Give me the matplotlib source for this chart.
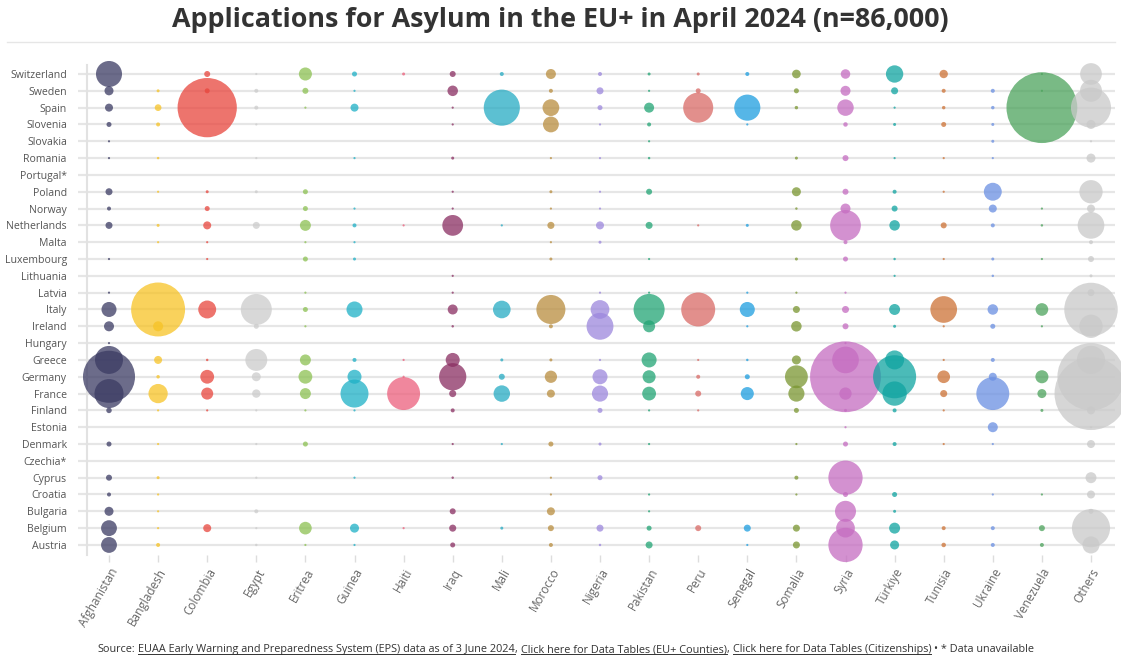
import matplotlib
matplotlib.use('Agg')
import matplotlib.pyplot as plt
from matplotlib.lines import Line2D
import numpy as np

plt.rcParams['font.family'] = ['Open Sans', 'DejaVu Sans']

# rows, top to bottom
countries = ['Switzerland', 'Sweden', 'Spain', 'Slovenia', 'Slovakia', 'Romania', 'Portugal*',
             'Poland', 'Norway', 'Netherlands', 'Malta', 'Luxembourg', 'Lithuania', 'Latvia',
             'Italy', 'Ireland', 'Hungary', 'Greece', 'Germany', 'France', 'Finland', 'Estonia',
             'Denmark', 'Czechia*', 'Cyprus', 'Croatia', 'Bulgaria', 'Belgium', 'Austria']

citizenships = ['Afghanistan', 'Bangladesh', 'Colombia', 'Egypt', 'Eritrea', 'Guinea', 'Haiti',
                'Iraq', 'Mali', 'Morocco', 'Nigeria', 'Pakistan', 'Peru', 'Senegal', 'Somalia',
                'Syria', 'Türkiye', 'Tunisia', 'Ukraine', 'Venezuela', 'Others']

# applications per country (same order as countries)
afghanistan = [676, 81, 64, 25, 4, 2, 0, 49, 16, 49, 0, 4, 0, 2, 225, 100, 2, 780, 2700, 840, 30, 0, 25, 0, 36, 16, 81, 250, 250]
bangladesh = [0, 9, 45, 16, 0, 6, 0, 2, 0, 9, 4, 0, 0, 0, 2900, 100, 0, 64, 12, 370, 2, 0, 2, 0, 9, 1, 1, 2, 16]
colombia = [36, 25, 3500, 0, 0, 0, 0, 9, 25, 64, 4, 4, 0, 0, 320, 0, 0, 6, 190, 144, 4, 0, 0, 0, 0, 0, 0, 64, 0]
egypt = [2, 16, 16, 1, 0, 1, 0, 9, 0, 49, 0, 0, 0, 0, 960, 25, 0, 480, 80, 70, 1, 0, 1, 0, 4, 0, 16, 4, 6]
eritrea = [170, 36, 2, 0, 0, 0, 0, 25, 25, 120, 1, 25, 0, 1, 25, 4, 0, 120, 190, 120, 1, 0, 25, 0, 0, 0, 0, 160, 4]
guinea = [25, 4, 64, 0, 0, 4, 0, 0, 4, 16, 2, 9, 0, 0, 256, 0, 0, 16, 196, 780, 4, 0, 0, 0, 4, 0, 0, 81, 4]
haiti = [9, 0, 0, 0, 0, 0, 0, 0, 0, 4, 0, 0, 0, 0, 0, 0, 0, 4, 2, 1080, 0, 0, 0, 0, 0, 0, 0, 4, 0]
iraq = [36, 110, 4, 4, 0, 9, 0, 4, 4, 430, 0, 0, 4, 4, 100, 6, 0, 196, 740, 50, 16, 0, 4, 0, 6, 0, 36, 50, 25]
mali = [16, 0, 1300, 0, 0, 0, 0, 0, 0, 2, 0, 0, 0, 0, 310, 0, 0, 9, 36, 270, 0, 0, 2, 0, 0, 0, 0, 9, 0]
morocco = [100, 16, 280, 250, 0, 4, 0, 9, 4, 50, 4, 9, 0, 0, 840, 16, 0, 9, 150, 64, 0, 0, 25, 0, 4, 2, 64, 36, 16]
nigeria = [16, 49, 25, 4, 0, 2, 0, 4, 2, 64, 9, 0, 0, 4, 350, 720, 0, 4, 225, 260, 25, 0, 9, 0, 25, 0, 0, 49, 6]
pakistan = [9, 4, 100, 16, 2, 6, 0, 36, 0, 49, 0, 4, 0, 2, 960, 144, 0, 225, 170, 190, 4, 0, 4, 0, 0, 2, 4, 25, 49]
peru = [9, 25, 900, 0, 0, 0, 0, 0, 0, 4, 0, 0, 0, 0, 1150, 0, 0, 2, 16, 36, 4, 0, 0, 0, 0, 0, 0, 36, 0]
senegal = [16, 0, 680, 4, 0, 0, 0, 0, 0, 9, 0, 0, 0, 4, 225, 4, 0, 6, 25, 170, 0, 0, 0, 0, 0, 0, 0, 49, 2]
somalia = [75, 25, 12, 0, 0, 9, 0, 81, 6, 110, 0, 9, 0, 1, 49, 110, 0, 81, 520, 260, 25, 0, 2, 0, 16, 2, 0, 49, 49]
syria = [90, 100, 270, 20, 0, 36, 0, 36, 100, 940, 16, 25, 0, 4, 49, 36, 2, 710, 5000, 150, 9, 2, 25, 0, 1170, 25, 440, 350, 1170]
turkiye = [300, 49, 4, 9, 0, 4, 0, 16, 36, 110, 0, 6, 4, 0, 120, 9, 0, 360, 1850, 590, 16, 0, 16, 0, 0, 25, 9, 120, 81]
tunisia = [70, 16, 12, 25, 0, 2, 0, 4, 0, 36, 0, 2, 0, 0, 710, 2, 0, 4, 160, 50, 2, 0, 4, 0, 0, 0, 0, 16, 20]
ukraine = [0, 16, 12, 9, 9, 4, 0, 320, 64, 16, 0, 9, 6, 0, 110, 25, 0, 16, 64, 1080, 0, 100, 2, 0, 0, 4, 0, 16, 16]
venezuela = [4, 4, 5000, 0, 0, 0, 0, 0, 2, 6, 0, 4, 0, 0, 160, 2, 0, 0, 170, 81, 9, 0, 0, 0, 0, 4, 0, 36, 16]
others = [470, 480, 1600, 81, 4, 81, 0, 540, 64, 710, 16, 36, 9, 49, 2850, 540, 0, 800, 4500, 5300, 64, 4, 64, 0, 120, 64, 25, 1450, 290]

series = [afghanistan, bangladesh, colombia, egypt, eritrea, guinea, haiti, iraq, mali, morocco,
          nigeria, pakistan, peru, senegal, somalia, syria, turkiye, tunisia, ukraine, venezuela, others]

colors = ['#3b3b63', '#f7c325', '#e8453c', '#cccccc', '#8cc152', '#1eb0c6', '#ec5f7c',
          '#8a2e62', '#26abc3', '#b98d3e', '#9c87dd', '#21a474', '#d96a66', '#1d9ee0',
          '#7a9630', '#c56cc1', '#0fa4a1', '#cd7235', '#6a8fe2', '#4ca35c', '#c9c9c9']

W, H = 1121, 661
fig = plt.figure(figsize=(W / 100, H / 100), dpi=100)
ax = fig.add_axes([87 / W, 1 - 555 / H, (1115 - 87) / W, (555 - 65) / H])

rows = np.arange(len(countries))
for i, (vals, col) in enumerate(zip(series, colors)):
    vals = np.array(vals, dtype=float)
    m = vals > 0
    # area proportional to value, small floor so tiny counts stay visible
    ax.scatter(np.full(m.sum(), i), rows[m], s=np.maximum(vals[m] * 0.52, 2.5), color=col,
               alpha=0.75, linewidths=0, clip_on=False, zorder=3)

ax.set_xlim((87 - 109) / 49.1, (1115 - 109) / 49.1)
ax.set_ylim((555 - 74) / 16.82, (65 - 74) / 16.82)

ax.set_yticks(rows)
ax.set_yticklabels(countries)
ax.set_xticks(np.arange(len(citizenships)))
ax.set_xticklabels(citizenships, rotation=60, ha='right', rotation_mode='anchor')

ax.yaxis.grid(True, color='#e6e6e6', lw=1.6, zorder=0)
ax.set_axisbelow(True)
ax.tick_params(axis='y', length=6.5, width=1.6, color='#e6e6e6', pad=8, labelsize=7.6, labelcolor='#555555')
ax.tick_params(axis='x', length=5, width=1, color='#dddddd', pad=3, labelsize=8.5, labelcolor='#666666')
for s in ['top', 'right', 'bottom']:
    ax.spines[s].set_visible(False)
ax.spines['left'].set_color('#e2e2e2')
ax.spines['left'].set_linewidth(1.5)

fig.text(0.5, 1 - 20 / H, 'Applications for Asylum in the EU+ in April 2024 (n=86,000)',
         ha='center', va='center', fontsize=19.4, fontweight='bold', color='#333333')
fig.add_artist(Line2D([7 / W, 1115 / W], [1 - 42 / H] * 2, color='#e6e6e6', lw=1))

# source line with underlined links
pieces = ['Source:', 'EUAA Early Warning and Preparedness System (EPS) data as of 3 June 2024', ',',
          'Click here for Data Tables (EU+ Counties)', ',', 'Click here for Data Tables (Citizenships)',
          '• * Data unavailable']
links = [False, True, False, True, False, True, False]
gaps = [0, 1, 0, 1, 0, 1, 1]

renderer = fig.canvas.get_renderer()
texts, widths = [], []
for p in pieces:
    t = fig.text(0, 1 - 652 / H, p, ha='left', va='baseline', fontsize=7.8, color='#333333')
    texts.append(t)
    widths.append(t.get_window_extent(renderer).width)
space = 3.0
total = sum(widths) + space * sum(gaps)
x = 566 - total / 2
for t, w, g, lk in zip(texts, widths, gaps, links):
    x += g * space
    t.set_x(x / W)
    if lk:
        fig.add_artist(Line2D([x / W, (x + w) / W], [1 - 654 / H] * 2, color='#333333', lw=0.7))
    x += w

fig.savefig('out.png', dpi=100)
